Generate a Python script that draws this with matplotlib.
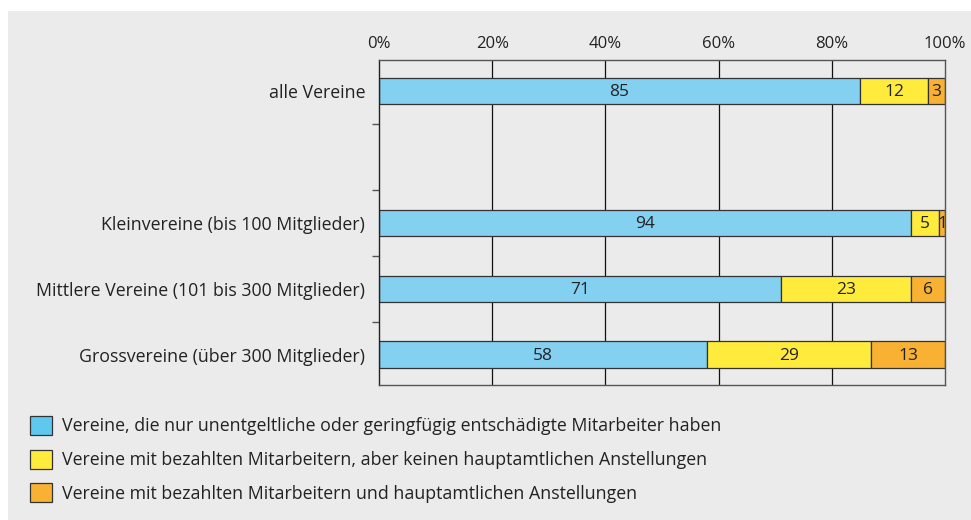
import matplotlib.pyplot as plt
from matplotlib.patches import Patch, Rectangle

plt.rcParams['font.family'] = ['Open Sans', 'DejaVu Sans']

kategorien = ['alle Vereine', '', 'Kleinvereine (bis 100 Mitglieder)',
              'Mittlere Vereine (101 bis 300 Mitglieder)',
              'Grossvereine (über 300 Mitglieder)']
unentgeltlich = [85, None, 94, 71, 58]
bezahlt = [12, None, 5, 23, 29]
hauptamtlich = [3, None, 1, 6, 13]
serien = [
    'Vereine, die nur unentgeltliche oder geringfügig entschädigte Mitarbeiter haben',
    'Vereine mit bezahlten Mitarbeitern, aber keinen hauptamtlichen Anstellungen',
    'Vereine mit bezahlten Mitarbeitern und hauptamtlichen Anstellungen',
]
farben = ['#84d0f0', '#ffeb3b', '#f8b133']
legend_farben = ['#5ec8ee', '#ffeb3b', '#f8b133']
grau = '#eaebea'
text = '#222222'

fig = plt.figure(figsize=(9.71, 5.20), dpi=100, facecolor='white')
fig.patches.append(Rectangle((8 / 971, 0), 1, 1 - 11 / 520, transform=fig.transFigure,
                             facecolor=grau, edgecolor='none', zorder=-10))
ax = fig.add_axes([379 / 971, 1 - 385 / 520, (945 - 379) / 971, (385 - 60) / 520])
ax.set_facecolor(grau)

for x in [20, 40, 60, 80]:
    ax.axvline(x, color='#111111', lw=0.9, zorder=1)

for i, kat in enumerate(kategorien):
    if unentgeltlich[i] is None:
        continue
    links = 0
    for wert, farbe in zip([unentgeltlich[i], bezahlt[i], hauptamtlich[i]], farben):
        ax.barh(i, wert, left=links, height=0.4, color=farbe, edgecolor='#333333',
                linewidth=0.9, zorder=2)
        ax.text(links + wert / 2, i + 0.02, str(wert), ha='center', va='center',
                fontsize=12.5, color=text, zorder=3)
        links += wert

ax.set_xlim(0, 100)
ax.set_ylim(4.46, -0.47)
ax.xaxis.tick_top()
ax.set_xticks([0, 20, 40, 60, 80, 100])
ax.set_xticklabels(['0%', '20%', '40%', '60%', '80%', '100%'])
ax.tick_params(axis='x', length=0, pad=6, labelsize=12, labelcolor=text)
ax.set_yticks(range(len(kategorien)))
ax.set_yticklabels(kategorien)
ax.set_yticks([0.5, 1.5, 2.5, 3.5], minor=True)
ax.tick_params(axis='y', which='major', length=0, pad=10, labelsize=12.8, labelcolor=text)
ax.tick_params(axis='y', which='minor', length=5, width=1, color='#555555')
for s in ax.spines.values():
    s.set_color('#555555')
    s.set_linewidth(1)
ax.spines['left'].set_color('#222222')

handles = [Patch(facecolor=f, edgecolor='#333333', linewidth=0.9) for f in legend_farben]
fig.legend(handles, serien, loc='upper left', bbox_to_anchor=(23 / 971, 1 - 409 / 520),
           frameon=False, fontsize=12.8, labelcolor=text, handlelength=1.25,
           handleheight=1.25, labelspacing=0.8, handletextpad=0.55, borderaxespad=0)

fig.savefig('out.png', dpi=100, facecolor=fig.get_facecolor())
